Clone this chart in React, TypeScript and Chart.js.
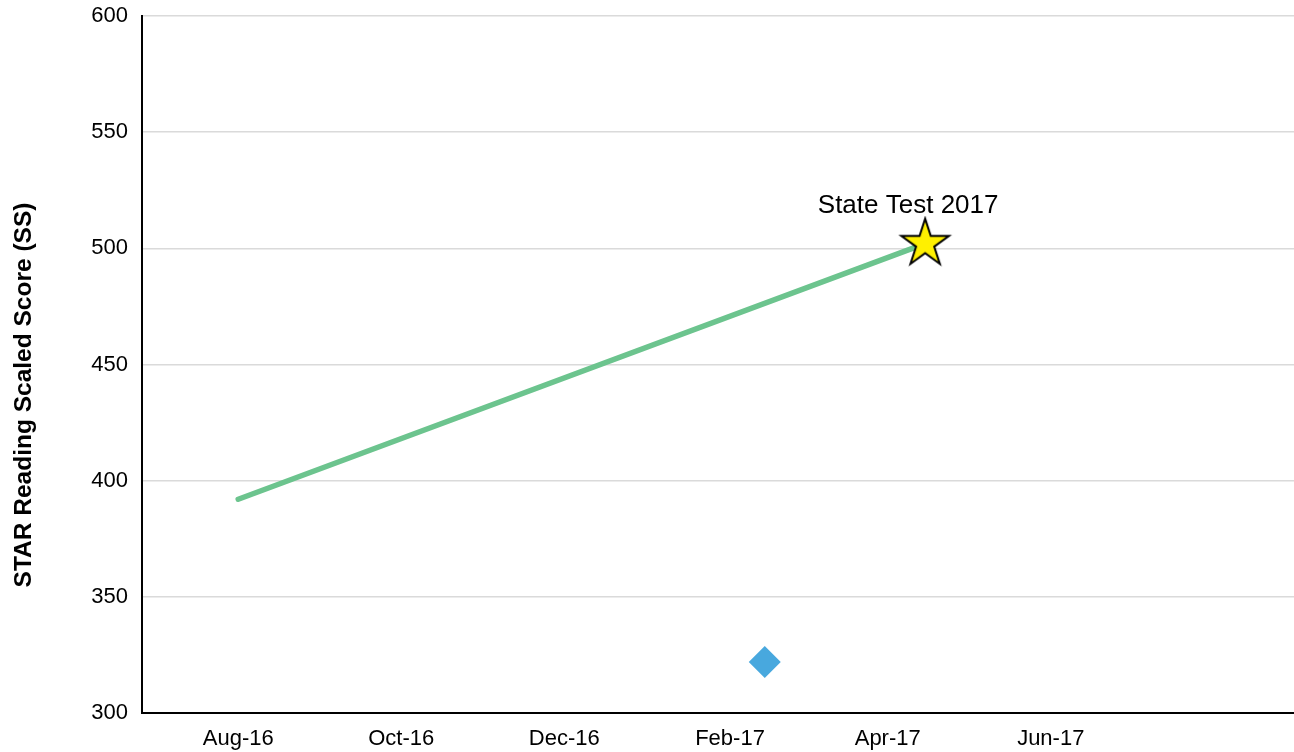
import React, { useEffect, useRef } from "react";
import { Chart, registerables } from "chart.js";

Chart.register(...registerables);

// ---- data ----
const xRange = ["2016-06-26", "2017-08-31"];
const xTickDates = ["2016-08-01", "2016-10-01", "2016-12-01", "2017-02-01", "2017-04-01", "2017-06-01"];
const xTickLabels = ["Aug-16", "Oct-16", "Dec-16", "Feb-17", "Apr-17", "Jun-17"];
const yMin = 300;
const yMax = 600;
const yStep = 50;
const yAxisTitle = "STAR Reading Scaled Score (SS)";

const trendDates = ["2016-08-01", "2017-04-15"];
const trendScores = [392, 502];

const stateTestDates = ["2017-04-15"];
const stateTestScores = [502];
const stateTestLabels = ["State Test 2017"];

const starTestDates = ["2017-02-14"];
const starTestScores = [322];

const FONT = "'Liberation Sans', Arial, Helvetica, sans-serif";
const DAY_MS = 86400000;
const toDay = (s: string) => Date.parse(s + "T00:00:00Z") / DAY_MS;

function makeStar(outer: number): HTMLCanvasElement {
  const pad = 3;
  const size = Math.ceil(outer * 2 + pad * 2);
  const c = document.createElement("canvas");
  c.width = size;
  c.height = size;
  const ctx = c.getContext("2d")!;
  const cx = size / 2;
  const cy = size / 2;
  const inner = outer * 0.382;
  ctx.beginPath();
  for (let i = 0; i < 10; i++) {
    const r = i % 2 === 0 ? outer : inner;
    const a = -Math.PI / 2 + (i * Math.PI) / 5;
    const px = cx + r * Math.cos(a);
    const py = cy + r * Math.sin(a);
    if (i === 0) ctx.moveTo(px, py);
    else ctx.lineTo(px, py);
  }
  ctx.closePath();
  ctx.fillStyle = "#FFF000";
  ctx.fill();
  ctx.lineWidth = 2;
  ctx.strokeStyle = "#000000";
  ctx.lineJoin = "miter";
  ctx.stroke();
  return c;
}

export default function App() {
  const ref = useRef<HTMLCanvasElement | null>(null);

  useEffect(() => {
    if (!ref.current) return;
    const star = makeStar(25);

    const labelPlugin = {
      id: "stateLabel",
      afterDatasetsDraw(chart: any) {
        const meta = chart.getDatasetMeta(0);
        const ctx = chart.ctx;
        ctx.save();
        ctx.font = `26px ${FONT}`;
        ctx.fillStyle = "#000";
        ctx.textAlign = "center";
        ctx.textBaseline = "alphabetic";
        meta.data.forEach((el: any, i: number) => {
          ctx.fillText(stateTestLabels[i], el.x - 17, el.y - 31);
        });
        ctx.restore();
      },
    };

    const yTitlePlugin = {
      id: "yTitle",
      afterDraw(chart: any) {
        const ctx = chart.ctx;
        const area = chart.chartArea;
        ctx.save();
        ctx.font = `bold 24.5px ${FONT}`;
        ctx.fillStyle = "#000";
        ctx.textAlign = "center";
        ctx.textBaseline = "alphabetic";
        ctx.translate(31, (area.top + chart.height) / 2 + 11);
        ctx.rotate(-Math.PI / 2);
        ctx.fillText(yAxisTitle, 0, 0);
        ctx.restore();
      },
    };

    const chart = new Chart(ref.current, {
      type: "line",
      data: {
        datasets: [
          {
            label: "State Test",
            data: stateTestDates.map((d, i) => ({ x: toDay(d), y: stateTestScores[i] })),
            showLine: false,
            pointStyle: star as any,
            pointRadius: 25,
          },
          {
            label: "STAR Test",
            data: starTestDates.map((d, i) => ({ x: toDay(d), y: starTestScores[i] })),
            showLine: false,
            pointStyle: "rectRot",
            pointRadius: 16,
            pointBackgroundColor: "#48A8DE",
            pointBorderWidth: 0,
            pointBorderColor: "#48A8DE",
          },
          {
            label: "Trend",
            data: trendDates.map((d, i) => ({ x: toDay(d), y: trendScores[i] })),
            borderColor: "#6CC48E",
            borderWidth: 5.5,
            borderCapStyle: "round",
            pointRadius: 0,
            tension: 0,
          },
        ],
      },
      options: {
        animation: false,
        responsive: false,
        events: [],
        layout: { autoPadding: false, padding: { top: 16, right: 0, bottom: 0, left: 0 } },
        plugins: {
          legend: { display: false },
          tooltip: { enabled: false },
          title: { display: false },
        },
        scales: {
          x: {
            type: "linear",
            min: toDay(xRange[0]),
            max: toDay(xRange[1]),
            grid: { display: false, drawTicks: false },
            border: { display: true, color: "#000", width: 2 },
            afterBuildTicks: (scale: any) => {
              scale.ticks = xTickDates.map((d) => ({ value: toDay(d) }));
            },
            afterFit: (scale: any) => {
              scale.height = 39;
              scale.paddingLeft = 0;
              scale.paddingRight = 0;
            },
            ticks: {
              autoSkip: false,
              maxRotation: 0,
              padding: 13,
              color: "#000",
              font: { family: FONT, size: 22 },
              callback: (_v: any, i: number) => xTickLabels[i],
            },
          },
          y: {
            min: yMin,
            max: yMax,
            grid: { color: "#DADADA", lineWidth: 1.5, drawTicks: false },
            border: { display: true, color: "#000", width: 2 },
            afterFit: (scale: any) => {
              scale.width = 142;
              scale.paddingTop = 0;
              scale.paddingBottom = 0;
            },
            ticks: {
              stepSize: yStep,
              padding: 14,
              color: "#000",
              font: { family: FONT, size: 22 },
            },
          },
        },
      },
      plugins: [labelPlugin, yTitlePlugin],
    });

    return () => chart.destroy();
  }, []);

  return (
    <div style={{ position: "absolute", left: 0, top: 0, width: 1294, height: 752, background: "#fff" }}>
      <canvas ref={ref} width={1294} height={752} style={{ display: "block" }} />
    </div>
  );
}
